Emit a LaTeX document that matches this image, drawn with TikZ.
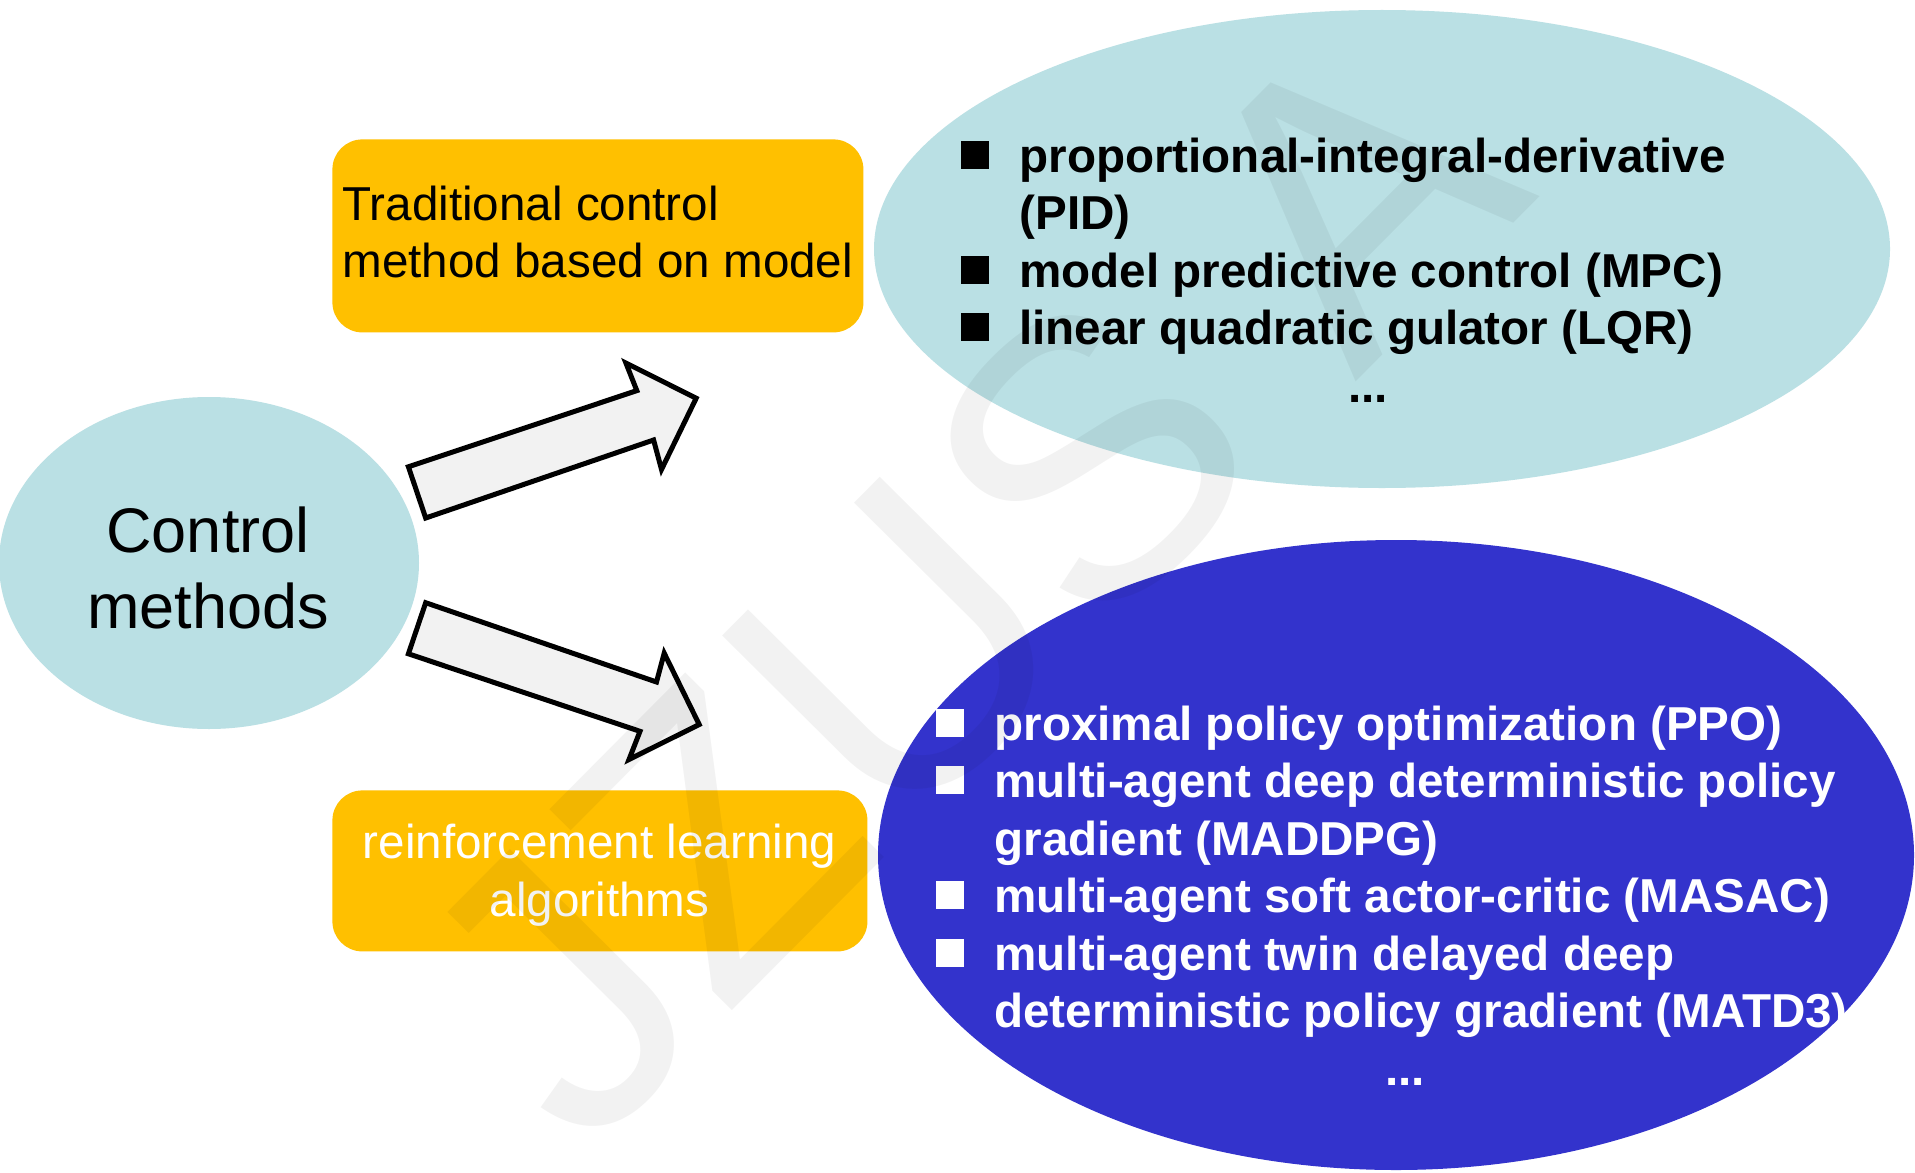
\documentclass[tikz,border=0pt]{standalone}
\usepackage{fontspec}
\setmainfont{Liberation Sans}
\usetikzlibrary{shapes.geometric}
\definecolor{paleteal}{RGB}{186,224,228}
\definecolor{royal}{RGB}{51,51,204}
\definecolor{amber}{RGB}{255,192,0}
\definecolor{arrowfill}{RGB}{242,242,242}
\newcommand{\bodysize}{\fontsize{23.8pt}{28pt}\selectfont}
\begin{document}
\begin{tikzpicture}[x=0.5pt,y=-0.5pt,
  oval/.style={ellipse, inner sep=0pt, draw=none},
  card/.style={rectangle, rounded corners=15pt, fill=amber, inner sep=0pt, anchor=north west},
  plaintxt/.style={inner sep=0pt, anchor=base west, font=\bodysize},
  boldtxt/.style={plaintxt, font=\bodysize\bfseries},
  dots/.style={boldtxt, anchor=base},
  bulletsq/.style={rectangle, inner sep=0pt, minimum size=14pt, anchor=south west},
  blockarrow/.style={draw=black, line width=2.5pt, fill=arrowfill, line join=miter},
  bigtxt/.style={inner sep=0pt, anchor=base, font=\fontsize{31.5pt}{38pt}\selectfont},
]
\clip (0,0) rectangle (1915,1172);
\fill[white] (0,0) rectangle (1915,1172);

% --- shapes ---
\node[oval, fill=paleteal, minimum width=210pt, minimum height=166pt] (ctrl) at (209,563) {};
\node[oval, fill=paleteal, minimum width=508pt, minimum height=239pt] (classic) at (1382,249) {};
\node[oval, fill=royal, minimum width=518pt, minimum height=315pt] (learned) at (1396,855) {};
\node[card, minimum width=265.5pt, minimum height=96.5pt] (modelbox) at (332,139) {};
\node[card, minimum width=267.5pt, minimum height=80.5pt] (rlbox) at (332,790) {};

% --- centre ellipse label ---
\node[bigtxt] (ctrlA) at (208,552) {Control};
\node[bigtxt] (ctrlB) at (208,628) {methods};

% --- card labels ---
\node[plaintxt] (mA) at (342,220) {Traditional control};
\node[plaintxt] (mB) at (342,277) {method based on model};
\node[plaintxt, anchor=base, text=white] (rA) at (599.5,858) {reinforcement learning};
\node[plaintxt, anchor=base, text=white] (rB) at (599.5,916) {algorithms};

% --- block arrows ---
\coordinate (ua1) at (425.7,518.0);
\coordinate (ua2) at (408.4,466.8);
\coordinate (ua3) at (636.8,390.6);
\coordinate (ua4) at (625.9,363.0);
\coordinate (ua5) at (696.2,398.2);
\coordinate (ua6) at (661.5,469.5);
\coordinate (ua7) at (653.6,440.0);
\draw[blockarrow] (ua1) -- (ua2) -- (ua3) -- (ua4) -- (ua5) -- (ua6) -- (ua7) -- cycle;

\coordinate (la1) at (425.7,602.7);
\coordinate (la2) at (408.4,653.8);
\coordinate (la3) at (640.0,731.3);
\coordinate (la4) at (629.0,759.5);
\coordinate (la5) at (699.2,724.5);
\coordinate (la6) at (664.2,653.2);
\coordinate (la7) at (656.5,682.0);
\draw[blockarrow] (la1) -- (la2) -- (la3) -- (la4) -- (la5) -- (la6) -- (la7) -- cycle;

% --- classical methods list ---
\node[bulletsq, fill=black] (cb1) at (961,169) {};
\node[boldtxt] (c1) at (1019,172) {proportional-integral-derivative};
\node[boldtxt] (c1b) at (1019,229.5) {(PID)};
\node[bulletsq, fill=black] (cb2) at (961,284) {};
\node[boldtxt] (c2) at (1019,287) {model predictive control (MPC)};
\node[bulletsq, fill=black] (cb3) at (961,341.5) {};
\node[boldtxt] (c3) at (1019,344.5) {linear quadratic gulator (LQR)};
\node[dots] (c4) at (1368,402) {...};

% --- learning methods list ---
\begin{scope}[every node/.append style={text=white}]
\node[bulletsq, fill=white] (lb1) at (936,737) {};
\node[boldtxt] (l1) at (994,740) {proximal policy optimization (PPO)};
\node[bulletsq, fill=white] (lb2) at (936,794.5) {};
\node[boldtxt] (l2) at (994,797.5) {multi-agent deep deterministic policy};
\node[boldtxt] (l2b) at (994,855) {gradient (MADDPG)};
\node[bulletsq, fill=white] (lb3) at (936,909.5) {};
\node[boldtxt] (l3) at (994,912.5) {multi-agent soft actor-critic (MASAC)};
\node[bulletsq, fill=white] (lb4) at (936,967) {};
\node[boldtxt] (l4) at (994,970) {multi-agent twin delayed deep};
\node[boldtxt] (l4b) at (994,1027.5) {deterministic policy gradient (MATD3)};
\node[dots] (l5) at (1405,1085) {...};
\end{scope}

% --- faint diagonal watermark ---
\node[inner sep=0pt, anchor=base west, rotate=45.2, font=\fontsize{197pt}{200pt}\selectfont,
      text=black, text opacity=0.05] (mark) at (584.7,1159.3) {JZUS A};
\end{tikzpicture}
\end{document}
